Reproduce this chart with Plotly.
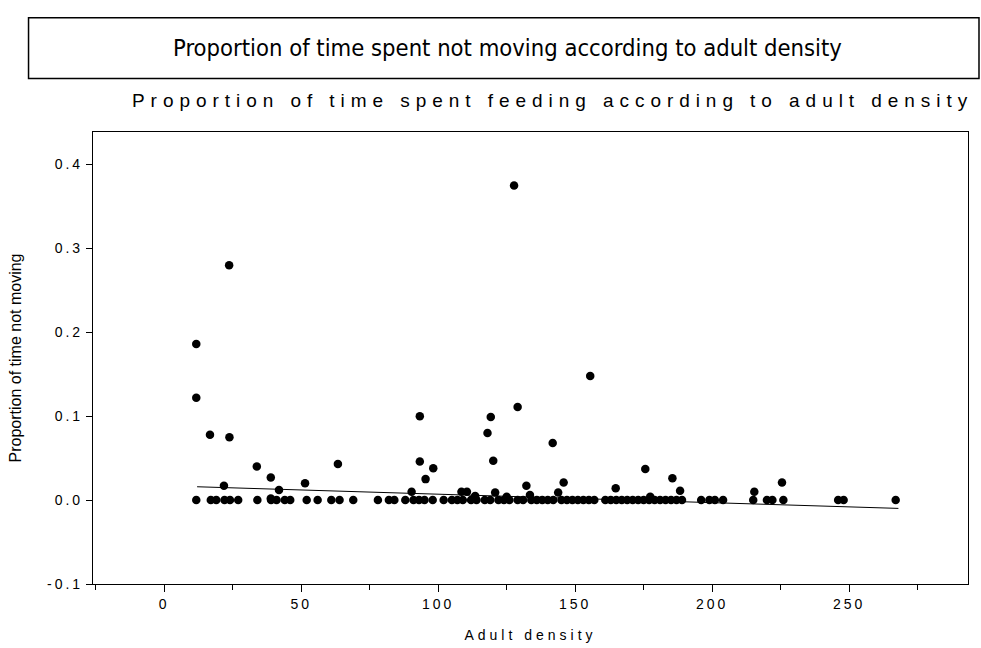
import plotly.graph_objects as go

# ---------------- data ----------------
density = [
    11.7, 11.7, 11.7, 17, 16.7, 19, 21.8, 22, 23.7, 23.8, 24, 27,
    33.8, 34, 38.9, 38.9, 39, 41.9, 41, 44, 46, 51.4, 52, 56, 61, 63.4, 64,
    69, 78, 82, 84, 88, 90.3, 91, 93.3, 93.3, 93, 95.4, 95, 98.2, 98,
    102, 105, 107, 108.5, 109, 110.5, 112, 113.5, 114, 117, 118, 119.2, 119,
    120.1, 120.8, 122, 124, 125, 126, 127.7, 129, 129, 131, 132.2, 133.5, 134, 136,
    138, 140, 141.8, 142, 143.8, 145, 145.8, 147, 149, 151, 153, 155, 155.5, 157,
    161, 163, 164.8, 165, 167, 169, 171, 173, 175, 175.6, 177, 177.4, 179, 181, 183,
    185, 185.5, 187, 188.3, 189, 196, 199, 201, 204, 215.4, 215, 220, 222, 225.5, 226,
    246, 248, 267,
]
prop_not_moving = [
    0.186, 0.122, 0.0, 0.0, 0.078, 0.0, 0.017, 0.0, 0.280, 0.075, 0.0, 0.0,
    0.040, 0.0, 0.027, 0.002, 0.0, 0.012, 0.0, 0.0, 0.0, 0.020, 0.0, 0.0, 0.0, 0.043, 0.0,
    0.0, 0.0, 0.0, 0.0, 0.0, 0.010, 0.0, 0.100, 0.046, 0.0, 0.025, 0.0, 0.038, 0.0,
    0.0, 0.0, 0.0, 0.010, 0.0, 0.010, 0.0, 0.005, 0.0, 0.0, 0.080, 0.099, 0.0,
    0.047, 0.009, 0.0, 0.0, 0.004, 0.0, 0.375, 0.111, 0.0, 0.0, 0.017, 0.006, 0.0, 0.0,
    0.0, 0.0, 0.068, 0.0, 0.009, 0.0, 0.021, 0.0, 0.0, 0.0, 0.0, 0.0, 0.148, 0.0,
    0.0, 0.0, 0.014, 0.0, 0.0, 0.0, 0.0, 0.0, 0.0, 0.037, 0.0, 0.004, 0.0, 0.0, 0.0,
    0.0, 0.026, 0.0, 0.011, 0.0, 0.0, 0.0, 0.0, 0.0, 0.010, 0.0, 0.0, 0.0, 0.021, 0.0,
    0.0, 0.0, 0.0,
]
fit_density = [12, 268]
fit_prop = [0.0159, -0.0099]

x_tick_values = [0, 50, 100, 150, 200, 250]
x_tick_labels = ["0", "50", "100", "150", "200", "250"]
y_tick_values = [-0.1, 0.0, 0.1, 0.2, 0.3, 0.4]
y_tick_labels = ["-0.1", "0.0", "0.1", "0.2", "0.3", "0.4"]

main_title = "Proportion of time spent not moving according to adult density"
sub_title = "Proportion of time spent feeding according to adult density"
x_title = "Adult density"
y_title = "Proportion of time not moving"

# ---------------- layout helpers ----------------
W, H = 981, 648
L, R, T, B = 92.5, 968, 131.5, 584  # plot-area pixel edges


def px_x(px):
    return (px - L) / (R - L)


def px_y(py):
    return (B - py) / (B - T)


def spaced(text, sp):
    return f'<span style="letter-spacing:{sp}px">{text}</span>'


ARIAL = "Liberation Sans, Arial, sans-serif"
NARROW = "Liberation Sans Narrow, Arial Narrow, DejaVu Sans Condensed, Liberation Sans, sans-serif"

fig = go.Figure()
fig.add_trace(go.Scatter(
    x=density, y=prop_not_moving, mode="markers",
    marker=dict(color="black", size=8.5, symbol="circle"),
    showlegend=False, hoverinfo="x+y",
))
fig.add_trace(go.Scatter(
    x=fit_density, y=fit_prop, mode="lines",
    line=dict(color="black", width=1),
    showlegend=False, hoverinfo="skip",
))

fig.update_layout(
    width=W, height=H,
    margin=dict(l=L, r=W - R, t=T, b=H - B, autoexpand=False),
    paper_bgcolor="white", plot_bgcolor="white",
    font=dict(family=ARIAL, color="black", size=13),
    xaxis=dict(
        range=[-26, 293.4], showgrid=False, zeroline=False,
        showline=True, linecolor="black", linewidth=1.2, mirror=True,
        ticks="outside", ticklen=7, tickcolor="black", tickwidth=1,
        tickvals=x_tick_values,
        ticktext=[spaced(t, 3) for t in x_tick_labels],
        tickfont=dict(size=14, family=ARIAL),
        minor=dict(dtick=25, tick0=0, ticks="outside", ticklen=5, tickcolor="black", showgrid=False),
        title=dict(text=spaced(x_title, 4), font=dict(size=14, family=ARIAL), standoff=19),
    ),
    yaxis=dict(
        range=[-0.1, 0.4387], showgrid=False, zeroline=False,
        showline=True, linecolor="black", linewidth=1.2, mirror=True,
        ticks="outside", ticklen=6, tickcolor="black", tickwidth=1,
        tickvals=y_tick_values,
        ticktext=[spaced(t, 3) for t in y_tick_labels],
        tickfont=dict(size=14, family=ARIAL),
        title=dict(text=y_title, font=dict(size=16, family=ARIAL), standoff=21),
    ),
    shapes=[dict(
        type="rect", xref="paper", yref="paper",
        x0=px_x(28), x1=px_x(979), y0=px_y(78), y1=px_y(17),
        line=dict(color="black", width=1.5), fillcolor="rgba(0,0,0,0)",
    )],
    annotations=[
        dict(text=main_title, xref="paper", yref="paper",
             x=px_x(507), y=px_y(47), xanchor="center", yanchor="middle",
             showarrow=False, font=dict(size=23.6, family=NARROW)),
        dict(text=spaced(sub_title, 5.95), xref="paper", yref="paper",
             x=px_x(130), y=px_y(100), xanchor="left", yanchor="middle",
             showarrow=False, font=dict(size=19, family=ARIAL)),
    ],
)

fig.write_html(
    "out.html",
    config={"displayModeBar": False},
    post_script="document.body.style.margin='0px';",
)
